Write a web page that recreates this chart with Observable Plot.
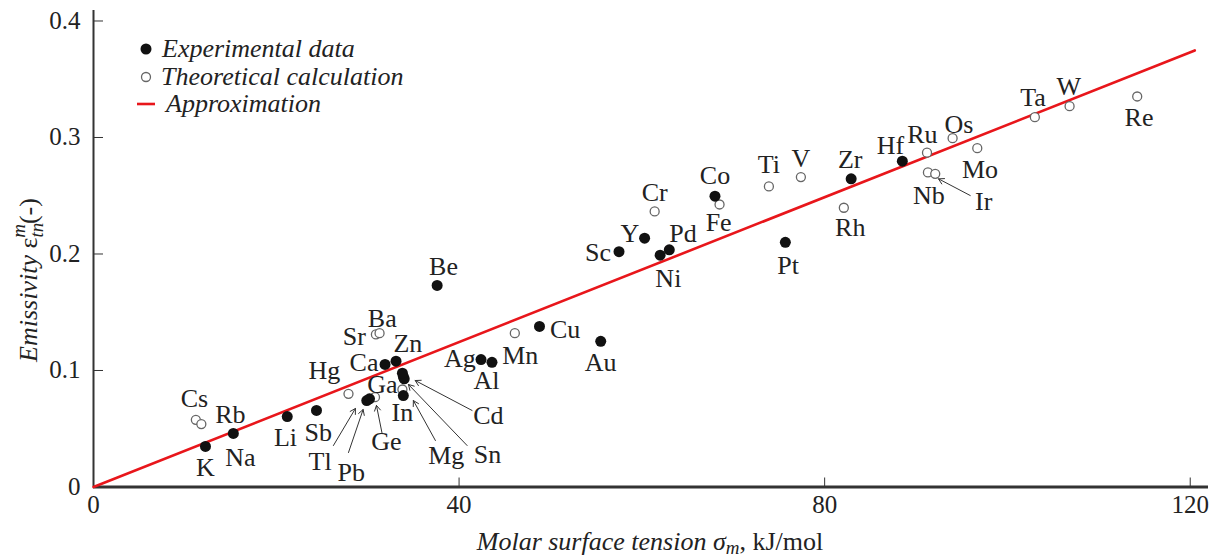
<!DOCTYPE html>
<html><head><meta charset="utf-8">
<script src="https://cdn.jsdelivr.net/npm/d3@7"></script>
<script src="https://cdn.jsdelivr.net/npm/@observablehq/plot@0.6"></script>
<style>
body{margin:0;background:#fff;}
#wrap{width:1217px;height:558px;}
</style></head><body><div id="wrap"></div>
<script>
// Experimental data (filled)
const expNames = ["K","Na","Li","Sb","Tl","Pb","In","Mg","Sn","Cd","Ca","Zn","Be","Ag","Al","Cu","Au","Sc","Y","Ni","Pd","Co","Pt","Zr","Hf"];
const expX = [12.25,15.3,21.2,24.4,29.9,30.2,33.9,34.0,33.9,33.8,31.9,33.1,37.6,42.4,43.6,48.8,55.5,57.5,60.3,62.0,63.0,68.0,75.7,82.9,88.5];
const expY = [0.0348,0.046,0.0605,0.0657,0.0742,0.0757,0.0785,0.0929,0.0948,0.0977,0.1052,0.108,0.173,0.1094,0.107,0.1378,0.125,0.202,0.2136,0.199,0.2036,0.2496,0.21,0.2645,0.2797];
// Theoretical calculation (open)
const theoNames = ["Cs","Rb","Hg","Ge","Ga","Sr","Ba","Mn","Cr","Fe","Ti","V","Rh","Ru","Nb","Ir","Os","Mo","Ta","W","Re"];
const theoX = [11.2,11.8,27.9,30.8,33.8,30.9,31.3,46.1,61.4,68.5,73.9,77.4,82.1,91.2,91.3,92.1,94.0,96.7,103.0,106.8,114.2];
const theoY = [0.0577,0.054,0.080,0.0771,0.0837,0.131,0.132,0.132,0.2365,0.2425,0.258,0.266,0.2397,0.287,0.270,0.2688,0.2994,0.2908,0.3174,0.3269,0.3352];
// Approximation line
const approxX = [0, 120.5];
const approxY = [0, 0.3747];
// Element label anchors (data units)
const labelNames = ["K","Na","Li","Sb","Rb","Cs","Tl","Pb","Ge","Mg","Sn","Cd","In","Ga","Hg","Ca","Zn","Sr","Ba","Be","Ag","Al","Mn","Cu","Au","Sc","Y","Pd","Ni","Cr","Co","Fe","Pt","Ti","V","Zr","Rh","Hf","Ru","Os","Mo","Nb","Ir","Ta","W","Re"];
const labelX = [12.25,16.08,21.0,24.6,14.98,11.05,24.8,28.2,32.05,38.6,43.1,43.2,33.8,31.6,25.26,29.6,34.4,28.55,31.6,38.3,40.1,43.0,46.7,51.6,55.5,55.2,58.7,64.5,62.9,61.4,68.0,68.4,76.0,73.9,77.4,82.8,82.8,87.2,90.7,94.7,97.0,91.4,97.4,102.8,106.7,114.4];
const labelY = [0.0167,0.0253,0.0425,0.0468,0.0622,0.0759,0.0219,0.0124,0.0391,0.0270,0.0279,0.0614,0.0639,0.0880,0.1000,0.1069,0.1231,0.1292,0.1446,0.1893,0.1103,0.0914,0.1129,0.1352,0.1069,0.2013,0.2176,0.2176,0.1790,0.2528,0.2674,0.2270,0.1901,0.2768,0.2820,0.2811,0.2227,0.2931,0.3026,0.3112,0.2725,0.2502,0.2451,0.3343,0.3438,0.3172];
// Pointer arrows (label side -> point side)
const arrowNames = ["Tl","Pb","Ge","Mg","Sn","Cd","Ir"];
const arrowX1 = [26.25,27.9,31.58,37.41,40.88,41.42,95.93];
const arrowY1 = [0.0356,0.0296,0.0459,0.0399,0.0356,0.0657,0.2502];
const arrowX2 = [28.66,29.5,30.96,35.0,34.46,35.2,92.46];
const arrowY2 = [0.0674,0.0665,0.0700,0.0742,0.0880,0.0914,0.2645];
// Ticks
const xTicks = [0,40,80,120];
const xTickLabels = ["0","40","80","120"];
const yTicks = [0,0.1,0.2,0.3,0.4];
const yTickLabels = ["0","0.1","0.2","0.3","0.4"];

const exp = expNames.map((n,i)=>({name:n,x:expX[i],y:expY[i]}));
const theo = theoNames.map((n,i)=>({name:n,x:theoX[i],y:theoY[i]}));
const approx = approxX.map((x,i)=>({x, y:approxY[i]}));
const labels = labelNames.map((n,i)=>({name:n,x:labelX[i],y:labelY[i]}));
const arrows = arrowNames.map((n,i)=>({name:n,x1:arrowX1[i],y1:arrowY1[i],x2:arrowX2[i],y2:arrowY2[i]}));
const xFmt = new Map(xTicks.map((t,i)=>[t,xTickLabels[i]]));
const yFmt = new Map(yTicks.map((t,i)=>[t,yTickLabels[i]]));

const FONT = "'Liberation Serif', 'Times New Roman', serif";
const INK = "#222";
const FS = 26;

const plot = Plot.plot({
  width: 1217, height: 558,
  marginLeft: 93, marginRight: 9, marginTop: 10, marginBottom: 71.5,
  style: {fontFamily: FONT, fontSize: FS + "px", color: INK, background: "#fff", overflow: "visible"},
  x: {domain: [0, 122]},
  y: {domain: [0, 0.409]},
  marks: [
    Plot.axisX({ticks: xTicks, tickSize: -9, tickPadding: 17, tickFormat: d => xFmt.get(d), label: null, stroke: "#333", fontSize: 25}),
    Plot.axisY({ticks: yTicks, tickSize: -10, tickPadding: 23, tickFormat: d => yFmt.get(d), label: null, stroke: "#333", fontSize: 25}),
    Plot.ruleY([0], {stroke: "#333", strokeWidth: 3}),
    Plot.ruleX([0], {stroke: "#333", strokeWidth: 2}),
    Plot.line(approx, {x: "x", y: "y", stroke: "#e8161b", strokeWidth: 2.6}),
    Plot.arrow(arrows, {x1: "x1", y1: "y1", x2: "x2", y2: "y2", stroke: "#333", strokeWidth: 1, headLength: 9, bend: false}),
    Plot.dot(theo, {x: "x", y: "y", r: 4.5, fill: "white", stroke: "#666", strokeWidth: 1.3}),
    Plot.dot(exp, {x: "x", y: "y", r: 5.5, fill: "#111", stroke: "none"}),
    Plot.text(labels, {x: "x", y: "y", text: "name", fontSize: FS, fill: INK, textAnchor: "middle", lineAnchor: "middle", fontFamily: FONT})
  ]
});

const svg = d3.select(plot);
// Y axis title
const yt = svg.append("text")
  .attr("transform", "translate(37,280) rotate(-90)")
  .attr("text-anchor", "middle")
  .attr("font-family", FONT).attr("font-size", FS).attr("fill", INK);
yt.append("tspan").attr("font-style", "italic").text("Emissivity ");
yt.append("tspan").text("ε");
yt.append("tspan").attr("font-style", "italic").attr("font-size", 19).attr("dy", 6).text("tn");
yt.append("tspan").attr("font-style", "italic").attr("font-size", 19).attr("dx", -15).attr("dy", -18).text("m");
yt.append("tspan").attr("dy", 12).text("(-)");
// X axis title
const xt = svg.append("text")
  .attr("x", 650).attr("y", 550)
  .attr("text-anchor", "middle")
  .attr("font-family", FONT).attr("font-size", FS).attr("fill", INK);
xt.append("tspan").attr("font-style", "italic").text("Molar surface tension σ");
xt.append("tspan").attr("font-style", "italic").attr("font-size", 19).attr("dy", 4).text("m");
xt.append("tspan").attr("dy", -4).text(", kJ/mol");
// Legend
const lg = svg.append("g").attr("font-family", FONT).attr("font-size", FS).attr("fill", INK).attr("font-style", "italic").attr("text-anchor", "start");
lg.append("circle").attr("cx", 146).attr("cy", 49).attr("r", 5.5).attr("fill", "#111");
lg.append("text").attr("x", 162).attr("y", 57).text("Experimental data");
lg.append("circle").attr("cx", 146).attr("cy", 77).attr("r", 4.5).attr("fill", "white").attr("stroke", "#666").attr("stroke-width", 1.3);
lg.append("text").attr("x", 161).attr("y", 85).text("Theoretical calculation");
lg.append("line").attr("x1", 137).attr("x2", 155).attr("y1", 104).attr("y2", 104).attr("stroke", "#e8161b").attr("stroke-width", 2.6);
lg.append("text").attr("x", 166).attr("y", 112).text("Approximation");

document.getElementById("wrap").appendChild(plot);
</script></body></html>
